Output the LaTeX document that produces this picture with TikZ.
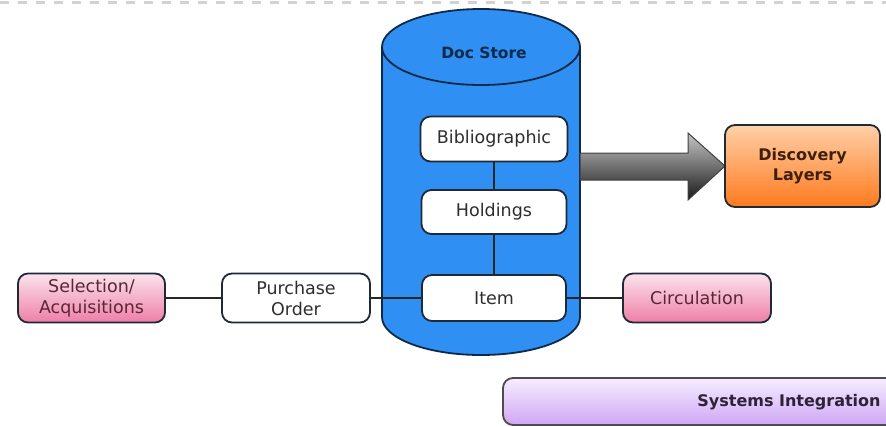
\documentclass[tikz,border=0pt]{standalone}
\usepackage{fontspec}
\setmainfont{DejaVu Sans}
\definecolor{cylblue}{HTML}{2F8FF2}
\definecolor{navy}{HTML}{0E2A4A}
\definecolor{boxline}{HTML}{1E2A36}
\definecolor{pinktop}{HTML}{FBE3EC}
\definecolor{pinkbot}{HTML}{EE7FA6}
\definecolor{orgtop}{HTML}{FFD0A8}
\definecolor{orgbot}{HTML}{FF7A1E}
\definecolor{purtop}{HTML}{F6EEFF}
\definecolor{purbot}{HTML}{CFA6F5}
\definecolor{txtgray}{HTML}{2E2E2E}
\definecolor{txtpink}{HTML}{5A2636}
\definecolor{txtbrown}{HTML}{3E200C}
\definecolor{txtpur}{HTML}{2E2238}
\tikzset{
  base/.style={draw=boxline, line width=1.8pt, rounded corners=10pt, align=center,
    inner sep=0pt, font=\fontsize{17.5}{21}\selectfont},
  whitebox/.style={base, fill=white, text=txtgray},
  pinkbox/.style={base, top color=pinktop, bottom color=pinkbot, text=txtpink},
  boldlabel/.style={font=\bfseries\fontsize{16}{20}\selectfont},
  link/.style={draw=black!85, line width=2pt},
}
\begin{document}
\begin{tikzpicture}[x=1pt,y=-1pt]
\useasboundingbox (0,0) rectangle (886,426);
% top dashed line
\draw[gray!35, line width=3pt, dash pattern=on 9pt off 9pt] (0,2) -- (886,2);
% cylinder
\path[fill=cylblue, draw=navy, line width=1.8pt]
  (382,47) -- (382,317) arc[start angle=180, end angle=0, x radius=99, y radius=38]
  -- (580,47) arc[start angle=0, end angle=-180, x radius=99, y radius=38] -- cycle;
\draw[navy, line width=1.8pt] (382,47) arc[start angle=180, end angle=0, x radius=99, y radius=38];
\node[font=\bfseries\fontsize{15.5}{18}\selectfont, text=navy] (docstore) at (484,53) {Doc Store};
% big arrow
\path[top color=gray!45, bottom color=gray!20!black, draw=black!75, line width=1pt]
  (580,153) -- (688,153) -- (688,133) -- (725,166) -- (688,200) -- (688,180) -- (580,180) -- cycle;
% boxes
\node[whitebox, minimum width=147, minimum height=45] (bib) at (494,139) {Bibliographic};
\node[whitebox, minimum width=145, minimum height=44] (hold) at (494,212) {Holdings};
\node[whitebox, minimum width=144, minimum height=46] (item) at (494,298) {Item};
\node[whitebox, minimum width=148, minimum height=49] (po) at (296,298) {Purchase\\Order};
\node[pinkbox, minimum width=147, minimum height=49] (sel) at (91.5,298) {Selection/\\Acquisitions};
\node[pinkbox, minimum width=148, minimum height=49] (circ) at (697,298) {Circulation};
\node[base, boldlabel, top color=orgtop, bottom color=orgbot, text=txtbrown, minimum width=155, minimum height=82] (disc) at (802.5,166) {Discovery\\Layers};
\path[draw=black!70, line width=1.8pt, top color=purtop, bottom color=purbot, rounded corners=10pt]
  (910,378) -- (503,378) -- (503,425) -- (910,425);
\node[boldlabel, text=txtpur] (sys) at (789,402) {Systems Integration};
% connectors
\draw[link] (bib) -- (hold);
\draw[link] (hold) -- (item);
\draw[link] (sel) -- (po);
\draw[link] (po) -- (item);
\draw[link] (item) -- (circ);
\end{tikzpicture}
\end{document}
